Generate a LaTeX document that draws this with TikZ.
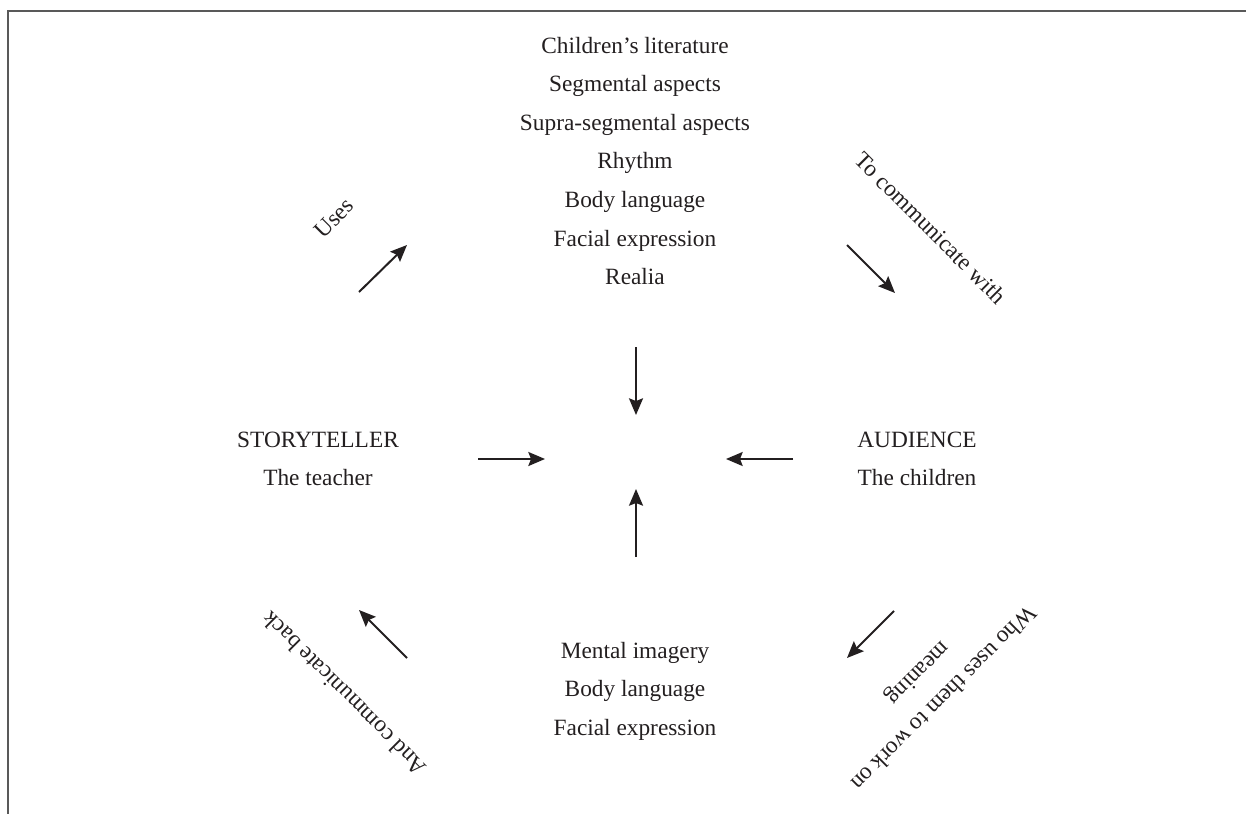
\documentclass[tikz,border=0pt]{standalone}
\usepackage{fontspec}
\setmainfont{Liberation Serif}
\usetikzlibrary{arrows.meta}
\definecolor{ink}{RGB}{35,31,32}
\begin{document}
\begin{tikzpicture}[x=0.75pt,y=-0.75pt,
  lbl/.style={font=\fontsize{17.5}{28.9}\selectfont, align=center, inner sep=0pt, text=ink},
  rlbl/.style={font=\fontsize{17.5}{26.5}\selectfont, align=center, inner sep=0pt, text=ink},
  arr/.style={-{Stealth[length=12.5pt,width=10.5pt,inset=2pt]}, line width=1.5pt, draw=ink},
  frameline/.style={line width=1.5pt, draw=black!65}]
\useasboundingbox (0,0) rectangle (1246,814);
% frame
\coordinate (fb) at (8,814);
\coordinate (fc) at (8,10.5);
\coordinate (fr) at (1246,10.5);
\draw[frameline] (fb) -- (fc) -- (fr);

% text nodes
\node[lbl] (tools) at (635,161) {Children’s literature\\Segmental aspects\\Supra-segmental aspects\\Rhythm\\Body language\\Facial expression\\Realia};
\node[lbl] (teller) at (318,459) {STORYTELLER\\The teacher};
\node[lbl] (aud) at (917,459) {AUDIENCE\\The children};
\node[lbl] (resp) at (635,691) {Mental imagery\\Body language\\Facial expression};

\node[rlbl, rotate=45] (uses) at (334,218) {Uses};
\node[rlbl, rotate=-45] (tocomm) at (931,228) {To communicate with};
\node[rlbl, rotate=135] (back) at (344,694) {And communicate back};
\node[rlbl, rotate=225] (who) at (930,685) {Who uses them to work on\\meaning};

% arrow end points
\coordinate (tlA) at (359,292); \coordinate (tlB) at (407,245);
\coordinate (trA) at (847,245); \coordinate (trB) at (895,293);
\coordinate (brA) at (894,611); \coordinate (brB) at (847,658);
\coordinate (blA) at (407,658); \coordinate (blB) at (359,610);
\coordinate (ctA) at (636,347); \coordinate (ctB) at (636,415);
\coordinate (cbA) at (636,557); \coordinate (cbB) at (636,489);
\coordinate (clA) at (478,459); \coordinate (clB) at (545,459);
\coordinate (crA) at (793,459); \coordinate (crB) at (726,459);

\draw[arr] (tlA) -- (tlB);
\draw[arr] (trA) -- (trB);
\draw[arr] (brA) -- (brB);
\draw[arr] (blA) -- (blB);
\draw[arr] (ctA) -- (ctB);
\draw[arr] (cbA) -- (cbB);
\draw[arr] (clA) -- (clB);
\draw[arr] (crA) -- (crB);
\end{tikzpicture}
\end{document}
